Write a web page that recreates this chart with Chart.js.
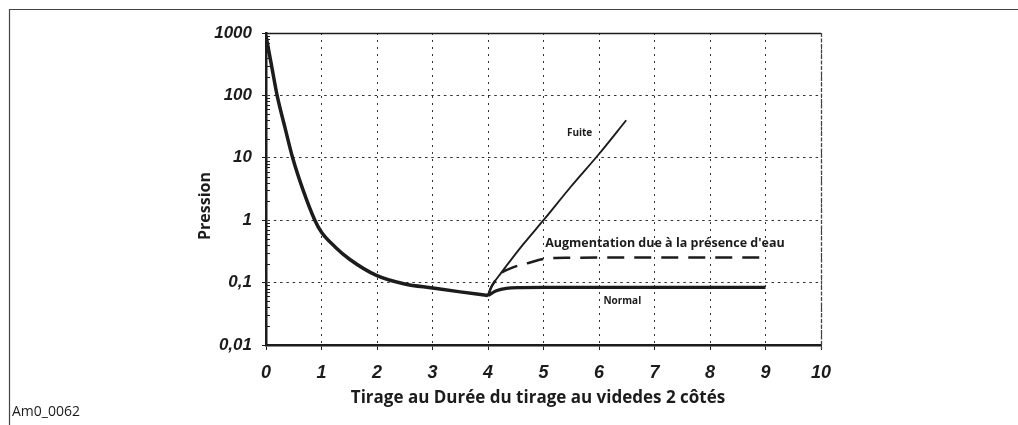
<!DOCTYPE html>
<html lang="fr">
<head>
<meta charset="utf-8">
<title>Pression</title>
<script src="https://cdn.jsdelivr.net/npm/chart.js@4/dist/chart.umd.min.js"></script>
<style>
  html, body { margin: 0; padding: 0; background: #fff; }
  #chart-wrap { position: relative; width: 1018px; height: 425px; }
</style>
</head>
<body>
<div id="chart-wrap"><canvas id="pressureChart" width="1018" height="425"></canvas></div>
<script>
// Valeurs
const mainX = [0, 0.1, 0.2, 0.34, 0.48, 0.67, 0.88, 1.0, 1.25, 1.5, 2.0, 2.5, 3.0, 3.5, 4.0];
const mainY = [900, 300, 100, 31, 10, 3.0, 1.0, 0.64, 0.37, 0.239, 0.129, 0.095, 0.082, 0.071, 0.062];

const normalX = [4.0, 4.15, 4.33, 4.6, 5.0, 6.0, 7.0, 8.0, 9.0];
const normalY = [0.062, 0.074, 0.081, 0.083, 0.084, 0.084, 0.084, 0.084, 0.084];

const waterX = [4.0, 4.06, 4.13, 4.2, 4.45, 4.76, 5.0, 5.5, 6.5, 7.5, 9.0];
const waterY = [0.062, 0.085, 0.107, 0.133, 0.175, 0.21, 0.24, 0.25, 0.253, 0.253, 0.253];

const leakX = [4.0, 4.06, 4.13, 4.22, 4.64, 5.0, 5.5, 6.0, 6.49];
const leakY = [0.062, 0.085, 0.107, 0.137, 0.416, 1.0, 3.5, 11.5, 40];

const xTicks = [0, 1, 2, 3, 4, 5, 6, 7, 8, 9, 10];
const yTicks = [0.01, 0.1, 1, 10, 100, 1000];
const yTickLabels = ['0,01', '0,1', '1', '10', '100', '1000'];

const xTitle = 'Tirage au Durée du tirage au videdes 2 côtés';
const yTitle = 'Pression';
const figureCode = 'Am0_0062';
const curveNames = ['Fuite', "Augmentation due à la présence d'eau", 'Normal'];

const INK = '#1d1b1c';
const GRID = '#333';

document.addEventListener('DOMContentLoaded', () => {

    /**
     * Assemble x/y arrays into points
     */
    function toPoints(xs, ys) {
        return xs.map((x, i) => ({ x: x, y: ys[i] }));
    }

    /**
     * Frame, borders, minor ticks and text
     */
    const decorPlugin = {
        id: 'decor',
        beforeDraw(chart) {
            const ctx = chart.ctx;
            ctx.save();
            ctx.strokeStyle = '#444';
            ctx.lineWidth = 1.2;
            ctx.beginPath();
            ctx.moveTo(9.5, 425);
            ctx.lineTo(9.5, 9.5);
            ctx.lineTo(1018, 9.5);
            ctx.stroke();
            ctx.restore();
        },
        beforeDatasetsDraw(chart) {
            const ctx = chart.ctx;
            const area = chart.chartArea;
            const yScale = chart.scales.y;
            ctx.save();
            // top border
            ctx.strokeStyle = INK;
            ctx.lineWidth = 1.5;
            ctx.beginPath();
            ctx.moveTo(area.left, area.top + 0.5);
            ctx.lineTo(area.right, area.top + 0.5);
            ctx.stroke();
            // right border (dashed grey)
            ctx.strokeStyle = '#444';
            ctx.lineWidth = 1.3;
            ctx.setLineDash([4, 1.5]);
            ctx.beginPath();
            ctx.moveTo(area.right + 0.5, area.top);
            ctx.lineTo(area.right + 0.5, area.bottom + 4);
            ctx.stroke();
            ctx.setLineDash([]);
            // log minor ticks on the y axis
            ctx.strokeStyle = INK;
            ctx.lineWidth = 1;
            ctx.beginPath();
            for (let d = 0; d < yTicks.length - 1; d++) {
                for (let m = 2; m <= 9; m++) {
                    const py = Math.round(yScale.getPixelForValue(yTicks[d] * m)) + 0.5;
                    ctx.moveTo(area.left, py);
                    ctx.lineTo(area.left + 4, py);
                }
            }
            ctx.stroke();
            ctx.restore();
        },
        afterDraw(chart) {
            const ctx = chart.ctx;
            const xs = chart.scales.x;
            const ys = chart.scales.y;
            ctx.save();
            ctx.fillStyle = INK;
            ctx.textBaseline = 'middle';

            // curve names
            ctx.textAlign = 'center';
            ctx.font = 'bold 10px "Open Sans"';
            ctx.fillText(curveNames[0], xs.getPixelForValue(5.65), ys.getPixelForValue(25));
            ctx.fillText(curveNames[2], xs.getPixelForValue(6.42), ys.getPixelForValue(0.051));
            ctx.textAlign = 'left';
            ctx.font = 'bold 12.5px "Open Sans"';
            ctx.fillText(curveNames[1], xs.getPixelForValue(5.03), ys.getPixelForValue(0.43));

            // axis titles
            ctx.textAlign = 'center';
            ctx.font = 'bold 17px "Open Sans"';
            ctx.fillText(xTitle, 538, 398);
            ctx.save();
            ctx.font = 'bold 16px "Open Sans"';
            ctx.translate(205, 206);
            ctx.rotate(-Math.PI / 2);
            ctx.fillText(yTitle, 0, 0);
            ctx.restore();

            // figure reference
            ctx.textAlign = 'left';
            ctx.font = '14px "Open Sans"';
            ctx.fillText(figureCode, 12, 412);
            ctx.restore();
        }
    };

    const tickFont = { family: '"Liberation Sans", Arial, sans-serif', weight: 'bold', style: 'italic' };

    const ctx = document.getElementById('pressureChart').getContext('2d');
    new Chart(ctx, {
        type: 'line',
        data: {
            datasets: [
                { data: toPoints(mainX, mainY), borderColor: INK, borderWidth: 3.5 },
                { data: toPoints(normalX, normalY), borderColor: INK, borderWidth: 3.2 },
                { data: toPoints(waterX, waterY), borderColor: INK, borderWidth: 2.5, borderDash: [17, 10] },
                { data: toPoints(leakX, leakY), borderColor: INK, borderWidth: 1.9 }
            ]
        },
        options: {
            responsive: false,
            animation: false,
            devicePixelRatio: 1,
            layout: { padding: { left: 0, top: 33, right: 197, bottom: 0 } },
            elements: {
                point: { radius: 0 },
                line: { cubicInterpolationMode: 'monotone', borderCapStyle: 'butt' }
            },
            plugins: {
                legend: { display: false },
                tooltip: { enabled: false }
            },
            scales: {
                x: {
                    type: 'linear',
                    min: 0,
                    max: 10,
                    afterBuildTicks: axis => { axis.ticks = xTicks.map(v => ({ value: v })); },
                    afterFit: axis => { axis.height = 80; },
                    ticks: {
                        font: { ...tickFont, size: 18 },
                        color: INK,
                        padding: 12,
                        maxRotation: 0,
                        autoSkip: false
                    },
                    grid: { color: GRID, lineWidth: 1, tickLength: 5, tickColor: INK, tickWidth: 1 },
                    border: { display: true, color: INK, width: 2.5, dash: [2, 5] }
                },
                y: {
                    type: 'logarithmic',
                    min: 0.01,
                    max: 1000,
                    afterBuildTicks: axis => { axis.ticks = yTicks.map(v => ({ value: v })); },
                    afterFit: axis => { axis.width = 266; },
                    ticks: {
                        callback: (value, i) => yTickLabels[i],
                        font: { ...tickFont, size: 17 },
                        color: INK,
                        padding: 10,
                        autoSkip: false
                    },
                    grid: { color: GRID, lineWidth: 1, tickLength: 4, tickColor: INK, tickWidth: 1 },
                    border: { display: true, color: INK, width: 2.5, dash: [2.5, 3.8] }
                }
            }
        },
        plugins: [decorPlugin]
    });
});
</script>
</body>
</html>
